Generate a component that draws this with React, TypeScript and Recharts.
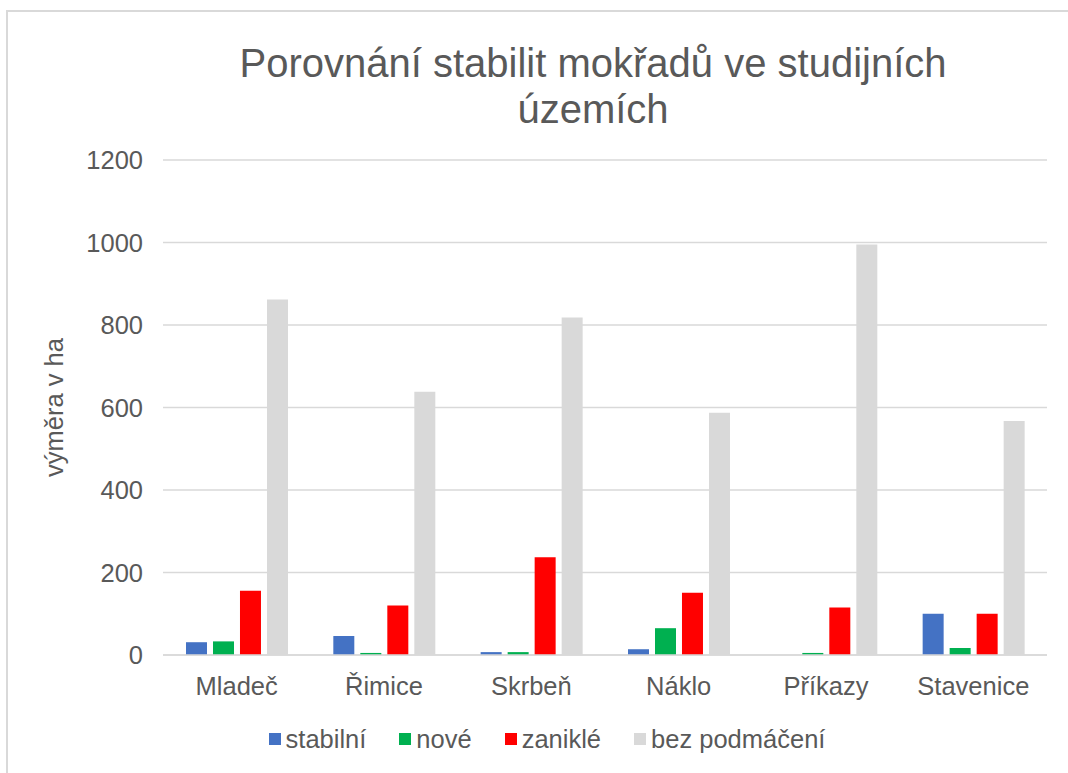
import React from "react";
import { BarChart, Bar, XAxis, YAxis, CartesianGrid } from "recharts";

const categories = ["Mladeč", "Řimice", "Skrbeň", "Náklo", "Příkazy", "Stavenice"];
const stabilni = [31, 46, 7, 14, 0, 100];
const nove = [33, 5, 7, 65, 5, 17];
const zanikle = [156, 120, 237, 151, 115, 100];
const bezPodmaceni = [862, 638, 818, 587, 995, 567];
const yTicks = [0, 200, 400, 600, 800, 1000, 1200];

const seriesNames = ["stabilní", "nové", "zaniklé", "bez podmáčení"];
const seriesKeys = ["stabilni", "nove", "zanikle", "bez"];
const seriesColors = ["#4472C4", "#00B050", "#FF0000", "#D9D9D9"];

const data = categories.map((c, i) => ({
  name: c,
  stabilni: stabilni[i],
  nove: nove[i],
  zanikle: zanikle[i],
  bez: bezPodmaceni[i],
}));

const FONT = "'Liberation Sans', Arial, sans-serif";
const TEXT = "#595959";

const LegendBlock = () => (
  <div
    style={{
      position: "absolute",
      left: 0,
      width: 1094,
      top: 724,
      display: "flex",
      justifyContent: "center",
      alignItems: "center",
      fontFamily: FONT,
      fontSize: 25.5,
      lineHeight: "30px",
      color: TEXT,
      whiteSpace: "nowrap",
    }}
  >
    {seriesNames.map((n, i) => (
      <div key={n} style={{ display: "flex", alignItems: "center", marginRight: i < 3 ? 33 : 0 }}>
        <div style={{ width: 12, height: 12, background: seriesColors[i], marginRight: 5 }} />
        <span>{n}</span>
      </div>
    ))}
  </div>
);

export default function App() {
  return (
    <div style={{ position: "absolute", left: 0, top: 0, width: 1068, height: 773, background: "#fff", overflow: "hidden" }}>
      <div
        style={{
          position: "absolute",
          left: 6,
          top: 10,
          width: 1070,
          height: 770,
          borderTop: "2px solid #D9D9D9",
          borderLeft: "2px solid #D9D9D9",
          boxSizing: "border-box",
        }}
      />
      <div
        style={{
          position: "absolute",
          left: 93,
          width: 1000,
          top: 40,
          textAlign: "center",
          fontFamily: FONT,
          fontSize: 40,
          lineHeight: "46px",
          color: TEXT,
        }}
      >
        Porovnání stabilit mokřadů ve studijních
        <br />
        územích
      </div>
      <div style={{ position: "absolute", left: 0, top: 0 }}>
        <BarChart
          width={1068}
          height={773}
          data={data}
          margin={{ top: 160, right: 21, bottom: 0, left: 0 }}
          barGap={6}
          barCategoryGap="15.6%"
        >
          <CartesianGrid vertical={false} stroke="#D9D9D9" strokeWidth={1.5} />
          <XAxis
            dataKey="name"
            axisLine={{ stroke: "#D9D9D9", strokeWidth: 1.5 }}
            tickLine={false}
            tickSize={0}
            tickMargin={22}
            height={118}
            tick={{ fill: TEXT, fontSize: 25.5, fontFamily: FONT }}
            interval={0}
          />
          <YAxis
            width={163}
            domain={[0, 1200]}
            ticks={yTicks}
            axisLine={false}
            tickLine={false}
            tickSize={0}
            tickMargin={20}
            tick={{ fill: TEXT, fontSize: 25.5, fontFamily: FONT }}
            label={{
              value: "výměra v ha",
              angle: -90,
              position: "insideLeft",
              offset: 0,
              dx: 54,
              style: { fill: TEXT, fontSize: 25.5, fontFamily: FONT, textAnchor: "middle" },
            }}
          />
          {seriesKeys.map((k, i) => (
            <Bar key={k} dataKey={k} name={seriesNames[i]} fill={seriesColors[i]} isAnimationActive={false} />
          ))}
        </BarChart>
      </div>
      <LegendBlock />
    </div>
  );
}
